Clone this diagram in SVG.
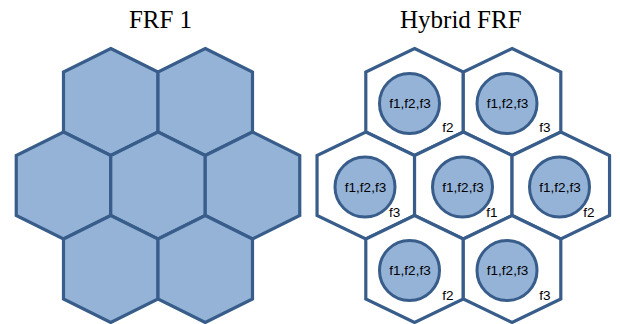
<svg xmlns="http://www.w3.org/2000/svg" width="620" height="324" viewBox="0 0 620 324">
  <style>
    .title { font-family: "Liberation Serif", "Times New Roman", serif; font-size: 25px; fill: #000; text-anchor: middle; }
    .cellL { fill: #95b3d7; stroke: #385d8a; stroke-width: 3.2; stroke-linejoin: miter; }
    .cellR { fill: #ffffff; stroke: #385d8a; stroke-width: 3.2; stroke-linejoin: miter; }
    .core { fill: #95b3d7; stroke: #385d8a; stroke-width: 3; }
    .lbl { font-family: "Liberation Sans", Arial, sans-serif; font-size: 13.5px; fill: #000; text-anchor: middle; }
  </style>
  <defs>
    <!-- pointy-top hexagons centred on the origin -->
    <polygon id="hexL" points="0,-53.5 47.25,-30 47.25,30 0,53.5 -47.25,30 -47.25,-30"/>
    <polygon id="hexR" points="0,-53.5 48.75,-30 48.75,30 0,53.5 -48.75,30 -48.75,-30"/>
  </defs>

  <rect width="620" height="324" fill="#ffffff"/>

  <text class="title" x="160.5" y="27.5">FRF 1</text>
  <text class="title" x="460.8" y="28">Hybrid FRF</text>

  <!-- FRF 1: seven full-reuse cells -->
  <g id="frf1">
    <g id="l-top-1"><use href="#hexL" class="cellL" x="110.75" y="102"/></g>
    <g id="l-top-2"><use href="#hexL" class="cellL" x="205.25" y="102"/></g>
    <g id="l-mid-1"><use href="#hexL" class="cellL" x="63.5" y="185.5"/></g>
    <g id="l-mid-2"><use href="#hexL" class="cellL" x="158" y="185.5"/></g>
    <g id="l-mid-3"><use href="#hexL" class="cellL" x="252.5" y="185.5"/></g>
    <g id="l-bot-1"><use href="#hexL" class="cellL" x="110.75" y="269"/></g>
    <g id="l-bot-2"><use href="#hexL" class="cellL" x="205.25" y="269"/></g>
  </g>

  <!-- Hybrid FRF: white cells with inner full-reuse zone -->
  <g id="hybrid">
    <g id="r-top-1">
      <use href="#hexR" class="cellR" x="414.55" y="102"/>
      <circle class="core" cx="409.5" cy="103.5" r="30"/>
      <text class="lbl" x="410" y="108">f1,f2,f3</text>
      <text class="lbl" x="448" y="132">f2</text>
    </g>
    <g id="r-top-2">
      <use href="#hexR" class="cellR" x="512.05" y="102"/>
      <circle class="core" cx="507" cy="103.5" r="30"/>
      <text class="lbl" x="507.5" y="108">f1,f2,f3</text>
      <text class="lbl" x="545" y="132">f3</text>
    </g>
    <g id="r-mid-1">
      <use href="#hexR" class="cellR" x="365.8" y="185.5"/>
      <circle class="core" cx="365" cy="187" r="30"/>
      <text class="lbl" x="365.5" y="191.5">f1,f2,f3</text>
      <text class="lbl" x="394.7" y="216.5">f3</text>
    </g>
    <g id="r-mid-2">
      <use href="#hexR" class="cellR" x="463.3" y="185.5"/>
      <circle class="core" cx="462.5" cy="187" r="30"/>
      <text class="lbl" x="463" y="191.5">f1,f2,f3</text>
      <text class="lbl" x="492" y="216.5">f1</text>
    </g>
    <g id="r-mid-3">
      <use href="#hexR" class="cellR" x="560.8" y="185.5"/>
      <circle class="core" cx="559.5" cy="187" r="30"/>
      <text class="lbl" x="560" y="191.5">f1,f2,f3</text>
      <text class="lbl" x="589" y="216.5">f2</text>
    </g>
    <g id="r-bot-1">
      <use href="#hexR" class="cellR" x="414.55" y="269"/>
      <circle class="core" cx="409.5" cy="270.5" r="30"/>
      <text class="lbl" x="410" y="275">f1,f2,f3</text>
      <text class="lbl" x="448" y="299.5">f2</text>
    </g>
    <g id="r-bot-2">
      <use href="#hexR" class="cellR" x="512.05" y="269"/>
      <circle class="core" cx="507" cy="270.5" r="30"/>
      <text class="lbl" x="507.5" y="275">f1,f2,f3</text>
      <text class="lbl" x="545" y="299.5">f3</text>
    </g>
  </g>

  <g id="connectors"/>
</svg>
